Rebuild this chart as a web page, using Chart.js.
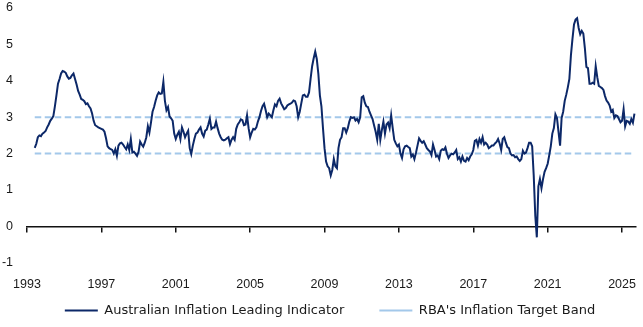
<!DOCTYPE html>
<html>
<head>
<meta charset="utf-8">
<script src="https://cdn.jsdelivr.net/npm/chart.js@4"></script>
<style>
  body { margin: 0; background: #fff; }
  #wrap { width: 643px; height: 327px; }
</style>
</head>
<body>
<div id="wrap"><canvas id="chart" width="643" height="327"></canvas></div>
<script>
// DATA
// monthly readings, first value is June 1993
const firstYear = 1993;
const firstMonth = 5; // 0 = Jan
const inflation = [
  2.16, 2.27, 2.45, 2.5, 2.48, 2.55, 2.58,                                  // 1993 Jun-Dec
  2.62, 2.72, 2.8, 2.9, 2.96, 3.03, 3.3, 3.6, 3.92, 4.05, 4.2, 4.27,        // 1994
  4.25, 4.22, 4.12, 4.06, 4.08, 4.15, 4.2, 4.05, 3.9, 3.72, 3.62, 3.5,      // 1995
  3.48, 3.44, 3.36, 3.38, 3.3, 3.24, 3.1, 2.9, 2.78, 2.75, 2.72, 2.7,       // 1996
  2.68, 2.66, 2.6, 2.42, 2.2, 2.15, 2.12, 2.1, 2.0, 2.12, 1.94, 2.22,       // 1997
  2.28, 2.3, 2.25, 2.18, 2.12, 2.25, 2.1, 2.4, 2.03, 2.05, 2.0, 1.94,       // 1998
  2.05, 2.33, 2.25, 2.19, 2.3, 2.45, 2.75, 2.58, 2.85, 3.15, 3.28, 3.45,    // 1999
  3.6, 3.68, 3.64, 3.65, 3.97, 3.45, 3.19, 3.28, 3.02, 2.97, 2.9, 2.55,     // 2000
  2.4, 2.52, 2.6, 2.4, 2.72, 2.6, 2.45, 2.55, 2.63, 2.15, 1.99, 2.22,       // 2001
  2.4, 2.55, 2.58, 2.66, 2.72, 2.55, 2.47, 2.63, 2.66, 2.8, 2.96, 2.68,     // 2002
  2.72, 2.72, 2.88, 2.7, 2.55, 2.45, 2.38, 2.36, 2.38, 2.42, 2.45, 2.26,    // 2003
  2.38, 2.45, 2.38, 2.68, 2.8, 2.86, 2.94, 2.92, 2.78, 2.8, 3.05, 2.7,      // 2004
  2.45, 2.58, 2.68, 2.66, 2.72, 2.88, 3.0, 3.17, 3.3, 3.37, 3.2, 3.0,       // 2005
  3.1, 3.05, 3.0, 3.19, 3.35, 3.3, 3.45, 3.51, 3.38, 3.3, 3.22, 3.25,       // 2006
  3.32, 3.35, 3.37, 3.4, 3.46, 3.44, 3.3, 3.0, 3.15, 3.38, 3.6, 3.62,       // 2007
  3.56, 3.56, 3.68, 4.05, 4.4, 4.62, 4.8, 4.6, 4.2, 3.6, 3.3, 2.7,          // 2008
  2.15, 1.78, 1.65, 1.6, 1.4, 1.55, 1.85, 1.65, 1.6, 2.15, 2.38, 2.45,      // 2009
  2.7, 2.7, 2.58, 2.7, 2.88, 3.0, 2.98, 3.0, 2.91, 2.95, 2.86, 3.0,         // 2010
  3.55, 3.58, 3.4, 3.3, 3.28, 3.15, 3.05, 2.95, 2.77, 2.6, 2.38, 2.82,      // 2011
  2.38, 2.65, 2.88, 2.55, 2.8, 2.85, 2.7, 3.05, 2.7, 2.38, 2.28, 2.2,       // 2012
  2.25, 2.0, 1.88, 2.12, 2.2, 2.22, 2.18, 2.15, 1.92, 1.98, 1.85, 2.02,     // 2013
  2.22, 2.42, 2.35, 2.3, 2.34, 2.25, 2.15, 2.1, 2.06, 1.96, 2.25, 2.1,      // 2014
  1.92, 1.95, 1.85, 2.08, 2.12, 2.1, 2.17, 2.0, 1.88, 1.95, 2.0, 1.98,      // 2015
  2.03, 2.1, 1.85, 1.9, 1.78, 1.92, 1.8, 1.78, 1.88, 1.82, 1.92, 1.98,      // 2016
  2.1, 2.35, 2.38, 2.22, 2.4, 2.3, 2.45, 2.25, 2.3, 2.25, 2.15, 2.18,       // 2017
  2.22, 2.22, 2.28, 2.32, 2.4, 2.28, 2.1, 2.4, 2.45, 2.3, 2.18, 2.15,       // 2018
  2.0, 1.95, 1.96, 1.9, 1.92, 1.85, 1.8, 1.85, 2.08, 2.0, 2.03, 2.15,       // 2019
  2.3, 2.3, 2.2, 1.4, 0.3, -0.3, 1.1, 1.3, 1.05, 1.3, 1.5, 1.6,             // 2020
  1.72, 1.95, 2.2, 2.55, 2.7, 3.08, 2.98, 2.6, 2.22, 2.98, 3.15, 3.45,      // 2021
  3.62, 3.82, 4.05, 4.7, 5.15, 5.55, 5.68, 5.72, 5.45, 5.28, 5.37, 5.3,     // 2022
  4.9, 4.38, 4.35, 3.92, 3.92, 3.95, 3.92, 4.4, 4.1, 3.86, 3.83, 3.8,       // 2023
  3.75, 3.58, 3.46, 3.4, 3.32, 3.15, 3.2, 2.98, 3.05, 3.03, 2.95, 2.86,     // 2024
  2.9, 3.22, 2.75, 2.9, 2.88, 2.82, 2.95, 2.85, 3.1                         // 2025 Jan-Sep
];
const targetBand = [2, 3];
const yearTicks = [1993, 1997, 2001, 2005, 2009, 2013, 2017, 2021, 2025];
const valueTicks = [-1, 0, 1, 2, 3, 4, 5, 6];

const seriesName = "Australian Inflation Leading Indicator";
const bandName = "RBA's Inflation Target Band";

// build points
const points = inflation.map((v, i) => ({ x: firstYear + (firstMonth + i) / 12, y: v }));
const xStart = points[0].x;
const xEnd = points[points.length - 1].x;

const navy = "#0c2868";
const lightBlue = "#a3c8ea";
const tickFont = { family: "'Liberation Sans', Arial, sans-serif", size: 12.5 };
const legendFont = { family: "'DejaVu Sans', sans-serif", size: 13 };

const bandSets = targetBand.slice().reverse().map((lvl, i) => ({
  label: bandName,
  data: [{ x: xStart, y: lvl }, { x: xEnd, y: lvl }],
  borderColor: lightBlue,
  backgroundColor: lightBlue,
  borderWidth: 2,
  borderDash: [6.5, 3.5],
  pointRadius: 0,
  hideInLegend: i > 0
}));

// legend sits a little right of centre in the original
const legendShift = {
  id: "legendShift",
  afterLayout(chart) {
    chart.legend.left += 12;
    chart.legend.right += 12;
  }
};

new Chart(document.getElementById("chart"), {
  type: "line",
  data: {
    datasets: [{
      label: seriesName,
      data: points,
      borderColor: navy,
      backgroundColor: navy,
      borderWidth: 2,
      pointRadius: 0,
      tension: 0
    }].concat(bandSets)
  },
  plugins: [legendShift],
  options: {
    responsive: false,
    animation: false,
    devicePixelRatio: 1,
    layout: { padding: { top: 8, right: 7, left: 0, bottom: 0 } },
    plugins: {
      tooltip: { enabled: false },
      legend: {
        position: "bottom",
        labels: {
          font: legendFont,
          color: "#1a1a1a",
          usePointStyle: true,
          pointStyle: "line",
          pointStyleWidth: 33,
          padding: 35,
          filter: (item, data) => !data.datasets[item.datasetIndex].hideInLegend
        }
      }
    },
    scales: {
      x: {
        type: "linear",
        min: 1993,
        max: 2025.75,
        position: { y: 0 },
        afterBuildTicks: s => { s.ticks = yearTicks.map(v => ({ value: v })); },
        // big label padding pushes labels below the -1 row; keep it out of the layout
        afterFit: s => { s.paddingLeft = 0; s.paddingRight = 0; },
        ticks: { font: tickFont, color: "#1a1a1a", padding: 46, maxRotation: 0, callback: v => String(v) },
        grid: { drawOnChartArea: false, drawTicks: true, tickLength: 5, color: "#111", lineWidth: 1.5 },
        border: { display: true, color: "#111", width: 1.5 }
      },
      y: {
        min: -1.17,
        max: 6,
        afterBuildTicks: s => { s.ticks = valueTicks.map(v => ({ value: v })); },
        afterFit: s => { s.width = 27; s.paddingTop = 0; s.paddingBottom = 0; },
        ticks: { font: tickFont, color: "#1a1a1a", padding: 14 },
        grid: { display: false, drawTicks: false },
        border: { display: false }
      }
    }
  }
});
</script>
</body>
</html>
